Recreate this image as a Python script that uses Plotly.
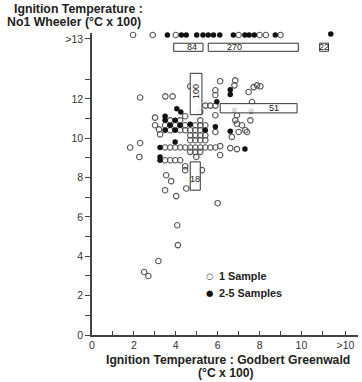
import plotly.graph_objects as go

# ---- data ----
# top row: values above 13 (No1 Wheeler > 13)
top_open_x = [1.96, 2.9, 4.0, 7.0, 8.0, 8.3, 9.0]
top_filled_x = [3.6, 4.27, 4.5, 5.0, 5.3, 5.55, 5.8, 6.1, 6.75, 7.3, 7.5, 7.75, 8.75]
top_row_y = 15.25
top_extra_filled = [(11.4, 15.3)]

open_pts = [
    (2.30, 12.07), (3.50, 12.13), (3.85, 12.13), (4.69, 12.64), (6.12, 12.90),
    (6.84, 12.94), (6.80, 12.69), (7.48, 12.35), (7.72, 12.60), (7.88, 12.69),
    (8.04, 12.64), (5.89, 12.44), (5.89, 12.20),
    (5.41, 11.66), (5.65, 11.66), (5.89, 11.66), (7.64, 11.84),
    (4.45, 11.12), (5.17, 11.34), (5.17, 10.91), (5.89, 11.17), (3.01, 11.05),
    (6.92, 11.17), (6.84, 10.91), (6.92, 10.74), (7.16, 10.66), (7.56, 10.91),
    (7.32, 10.41), (7.00, 10.32), (7.40, 10.32), (6.68, 10.07), (5.89, 10.32),
    (3.01, 10.66), (3.20, 10.45), (3.25, 10.20),
    (3.73, 10.91), (4.21, 10.91), (3.49, 10.66), (3.97, 10.66), (3.73, 10.41), (4.21, 10.41),
    (4.45, 10.66), (4.45, 10.41),
    (4.93, 10.66), (5.17, 10.66), (5.41, 10.66),
    (4.69, 10.41), (4.93, 10.41), (5.17, 10.41),
    (4.69, 10.15), (4.93, 10.15), (5.17, 10.15), (5.41, 10.15),
    (4.69, 9.90), (4.93, 9.90), (5.17, 9.90), (5.41, 9.90),
    (3.49, 9.53), (3.73, 9.53), (3.97, 9.53), (4.21, 9.53), (4.45, 9.53), (4.69, 9.53),
    (4.93, 9.53), (5.17, 9.53), (5.41, 9.53), (5.65, 9.53), (5.89, 9.53),
    (6.12, 9.60), (6.60, 9.50), (6.92, 9.45),
    (4.69, 9.31), (4.93, 9.31), (5.17, 9.31), (4.98, 9.05), (6.12, 9.15),
    (3.49, 8.88), (3.73, 8.88), (3.97, 8.88), (4.21, 8.88),
    (2.26, 9.05), (1.82, 9.53), (2.30, 9.76),
    (4.45, 8.58), (4.45, 8.38), (5.25, 8.38), (3.54, 8.12), (3.78, 7.82),
    (3.49, 7.36), (4.02, 7.06), (4.50, 7.45), (6.00, 6.70),
    (4.07, 5.58), (4.10, 4.57), (3.17, 3.76), (2.49, 3.20), (2.69, 3.00),
]
filled_pts = [
    (6.60, 12.47), (6.60, 12.22), (5.96, 11.86), (4.05, 11.50), (4.24, 11.34),
    (3.49, 11.12), (7.60, 11.39), (6.80, 11.42), (4.69, 10.71), (5.41, 10.41),
    (5.89, 10.58), (6.60, 10.35), (7.30, 9.45), (3.25, 9.53), (3.97, 9.81),
    (3.25, 9.05), (3.25, 8.88),
    (3.49, 10.91), (3.97, 10.91), (3.73, 10.66), (4.21, 10.66), (3.49, 10.41), (3.97, 10.41),
]

# group boxes with counts
box_labels = ["84", "270", "22", "100", "51", "18"]
box_x0 = [3.9, 5.55, 10.87, 4.69, 6.12, 4.69]
box_x1 = [5.3, 9.85, 11.29, 5.25, 9.79, 5.17]
box_y0 = [14.42, 14.42, 14.42, 11.2, 11.29, 7.36]
box_y1 = [14.83, 14.83, 14.83, 13.3, 11.76, 8.8]
box_lx = [4.78, 6.8, 11.08, 4.97, 8.7, 4.93]
box_ly = [14.62, 14.62, 14.62, 12.35, 11.52, 7.95]
box_rot = [0, 0, 0, -90, 0, 0]

x_tickvals = [0, 1, 2, 3, 4, 5, 6, 7, 8, 9, 10, 11, 12.1]
x_ticktext = ["0", "", "2", "", "4", "", "6", "", "8", "", "10", "", ">10"]
y_tickvals = [0, 1, 2, 3, 4, 5, 6, 7, 8, 9, 10, 11, 12, 13, 15.05]
y_ticktext = ["0", "", "2", "", "4", "", "6", "", "8", "", "10", "", "12", "", ">13"]

legend_names = ["1 Sample", "2-5 Samples"]
legend_symbols = ["○", "●"]

# ---- figure ----
ox = [p[0] for p in open_pts] + top_open_x
oy = [p[1] for p in open_pts] + [top_row_y] * len(top_open_x)
fx = [p[0] for p in filled_pts] + top_filled_x + [p[0] for p in top_extra_filled]
fy = [p[1] for p in filled_pts] + [top_row_y] * len(top_filled_x) + [p[1] for p in top_extra_filled]

fig = go.Figure()
fig.add_trace(go.Scatter(x=ox, y=oy, mode="markers", name=legend_names[0],
                         marker=dict(symbol="circle-open", size=5.5, color="#555",
                                     line=dict(width=1.1, color="#555")),
                         cliponaxis=False, showlegend=False))
fig.add_trace(go.Scatter(x=fx, y=fy, mode="markers", name=legend_names[1],
                         marker=dict(symbol="circle", size=5.5, color="#111"),
                         cliponaxis=False, showlegend=False))

for x0, x1, y0, y1 in zip(box_x0, box_x1, box_y0, box_y1):
    fig.add_shape(type="rect", x0=x0, x1=x1, y0=y0, y1=y1, xref="x", yref="y",
                  line=dict(color="#333", width=1), fillcolor="rgba(255,255,255,0.85)",
                  layer="above")
for lab, lx, ly, rot in zip(box_labels, box_lx, box_ly, box_rot):
    fig.add_annotation(x=lx, y=ly, text=lab, showarrow=False, textangle=rot,
                       font=dict(family="Liberation Sans", size=9, color="#222"))

W, H = 362, 382
ML, MR, MT, MB = 92, 4, 33, 47
font_main = "Liberation Sans"


def px_ann(text, x, y, size, anchor="left", family=font_main, color="#222"):
    fig.add_annotation(text=text, xref="paper", yref="paper",
                       x=(x - ML) / (W - ML - MR), y=1 - (y - MT) / (H - MT - MB),
                       showarrow=False, xanchor=anchor, yanchor="middle",
                       font=dict(family=family, size=size, color=color))


px_ann("<b>Ignition Temperature :</b>", 12, 9, 12.3)
px_ann("<b>No1 Wheeler (°C x 100)</b>", 5, 22, 12.3)
px_ann("<b>Ignition Temperature : Godbert Greenwald</b>", 228, 360, 12.2, anchor="center")
px_ann("<b>(°C x 100)</b>", 226, 373, 12.2, anchor="center")

# legend drawn as text
px_ann(legend_symbols[0], 209, 276, 8.5, anchor="center", family="DejaVu Sans", color="#333")
px_ann(legend_symbols[1], 209, 293, 8.5, anchor="center", family="DejaVu Sans", color="#111")
px_ann("<b>" + legend_names[0] + "</b>", 217, 276, 10.8)
px_ann("<b>" + legend_names[1] + "</b>", 217, 293, 10.8)

fig.update_layout(
    width=W, height=H, margin=dict(l=ML, r=MR, t=MT, b=MB),
    paper_bgcolor="white", plot_bgcolor="white",
    font=dict(family=font_main, size=10, color="#333"),
    showlegend=False,
)
fig.update_xaxes(range=[0, 12.7], tickvals=x_tickvals, ticktext=x_ticktext,
                 ticks="inside", ticklen=4, tickcolor="#444", showline=True,
                 linecolor="#444", linewidth=1.5, showgrid=False, zeroline=False,
                 tickfont=dict(size=10.5, color="#333"))
fig.update_yaxes(range=[0, 15.35], tickvals=y_tickvals, ticktext=y_ticktext,
                 ticks="outside", ticklen=5, tickcolor="#444", showline=True,
                 linecolor="#444", linewidth=1.5, showgrid=False, zeroline=False,
                 tickfont=dict(size=10.5, color="#333"))

fig.write_html("out.html")
